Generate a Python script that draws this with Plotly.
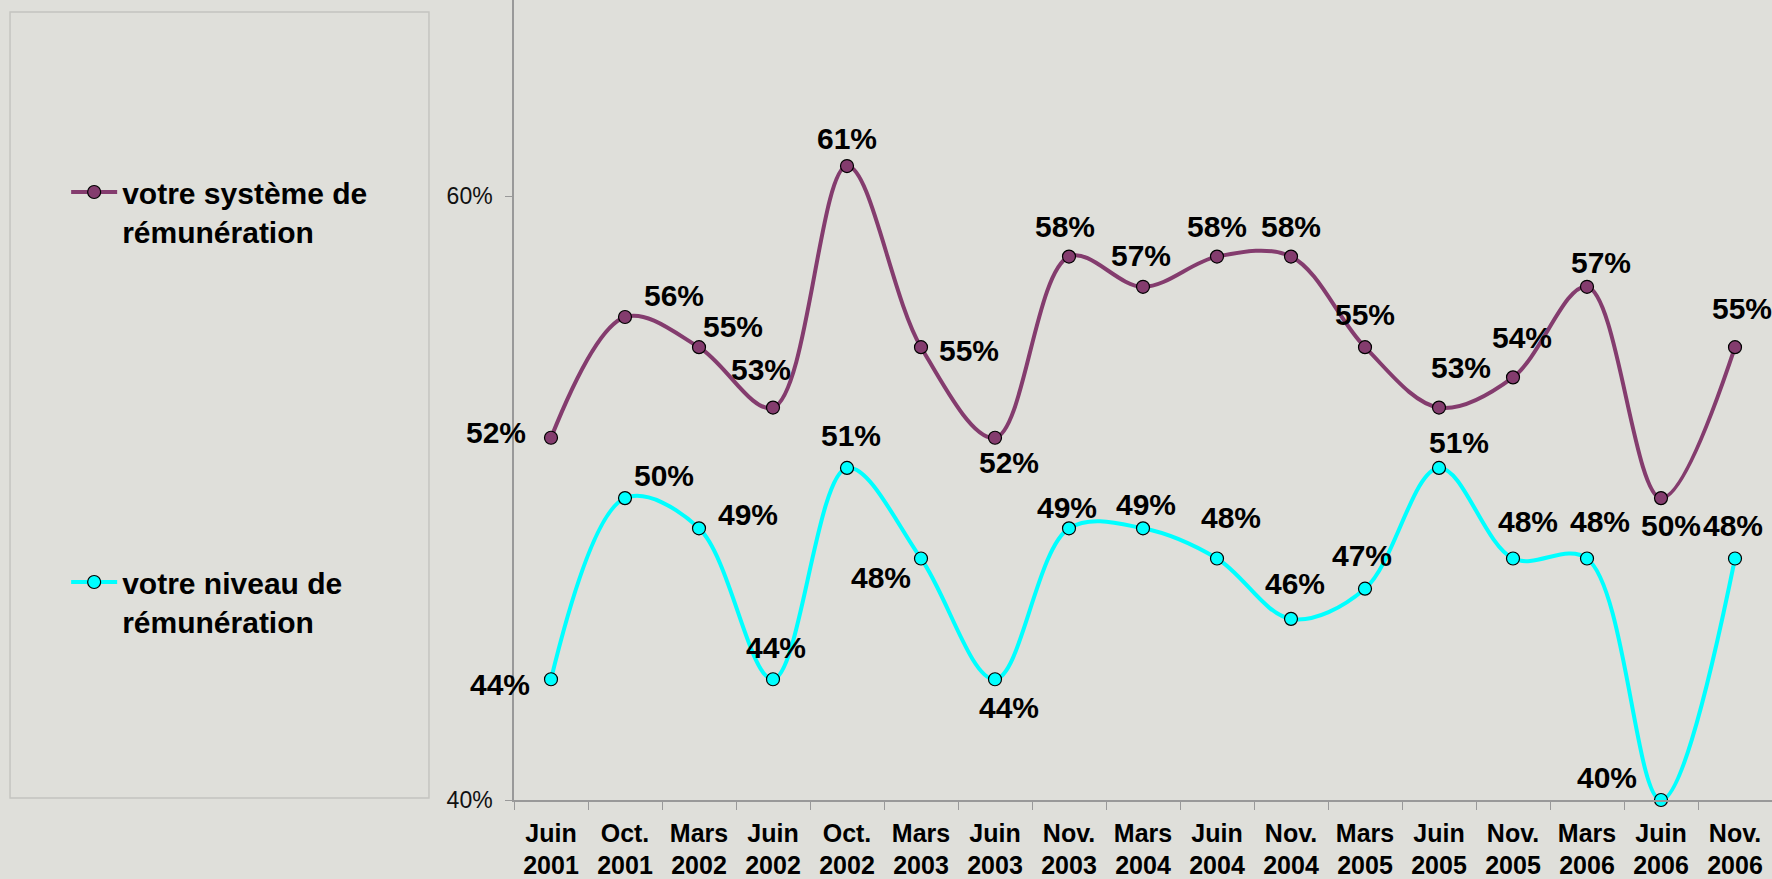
import plotly.graph_objects as go

# data
PERIODS = [
    "Juin<br>2001", "Oct.<br>2001", "Mars<br>2002", "Juin<br>2002", "Oct.<br>2002",
    "Mars<br>2003", "Juin<br>2003", "Nov.<br>2003", "Mars<br>2004", "Juin<br>2004",
    "Nov.<br>2004", "Mars<br>2005", "Juin<br>2005", "Nov.<br>2005", "Mars<br>2006",
    "Juin<br>2006", "Nov.<br>2006",
]
SYSTEME = [52, 56, 55, 53, 61, 55, 52, 58, 57, 58, 58, 55, 53, 54, 57, 50, 55]
NIVEAU = [44, 50, 49, 44, 51, 48, 44, 49, 49, 48, 46, 47, 51, 48, 48, 40, 48]
SERIES_NAMES = ["votre système de<br>rémunération", "votre niveau de<br>rémunération"]
Y_TICKS = [40, 60]

# label offsets (pixels, dx right / dy down) relative to each point
SYSTEME_OFFSETS = [
    (-55, -5), (49, -21), (34, -21), (-12, -38), (0, -28), (48, 3), (14, 25),
    (-4, -30), (-2, -31), (0, -30), (0, -30), (0, -33), (22, -40), (9, -40),
    (14, -24), (10, 27), (7, -39),
]
NIVEAU_OFFSETS = [
    (-51, 5), (39, -23), (49, -14), (3, -32), (4, -32), (-40, 19), (14, 28),
    (-2, -21), (3, -24), (14, -41), (4, -35), (-3, -33), (20, -25), (15, -37),
    (13, -37), (-54, -23), (-2, -33),
]

BG = "#DFDFDA"
PURPLE = "#843C6E"
CYAN = "#00FFFF"
FONT = "Liberation Sans, Arial, sans-serif"

fig = go.Figure()
for name, values, color, group in [
    (SERIES_NAMES[0], SYSTEME, PURPLE, "a"),
    (SERIES_NAMES[1], NIVEAU, CYAN, "b"),
]:
    fig.add_trace(
        go.Scatter(
            x=PERIODS,
            y=values,
            name=name,
            legendgroup=group,
            mode="lines+markers",
            line={"color": color, "width": 4, "shape": "spline", "smoothing": 1},
            marker={"color": color, "size": 13, "line": {"color": "black", "width": 1.2}},
            cliponaxis=False,
        )
    )

for values, offsets in [(SYSTEME, SYSTEME_OFFSETS), (NIVEAU, NIVEAU_OFFSETS)]:
    for cat, val, (dx, dy) in zip(PERIODS, values, offsets):
        fig.add_annotation(
            x=cat, y=val, text=f"{val}%", showarrow=False,
            xshift=dx, yshift=-dy, xanchor="center", yanchor="middle",
            font={"family": FONT, "size": 30, "color": "black", "weight": "bold"},
        )

# legend frame
fig.add_shape(
    type="rect", xref="paper", yref="paper",
    x0=-0.4006, x1=-0.0676, y0=0.0025, y1=0.985,
    line={"color": "#C4C4C0", "width": 1.5}, fillcolor="rgba(0,0,0,0)",
)

fig.update_layout(
    width=1772,
    height=879,
    paper_bgcolor=BG,
    plot_bgcolor=BG,
    margin={"l": 514, "r": 0, "t": 0, "b": 79},
    font={"family": FONT, "color": "black"},
    showlegend=True,
    legend={
        "x": -0.356, "xanchor": "left",
        "y": 0.7925, "yanchor": "top",
        "bgcolor": "rgba(0,0,0,0)",
        "font": {"family": FONT, "size": 30, "color": "black", "weight": "bold"},
        "valign": "top",
        "itemwidth": 46,
        "traceorder": "grouped",
        "tracegroupgap": 309,
    },
    xaxis={
        "type": "category",
        "range": [-0.5, len(PERIODS) - 0.5],
        "tickson": "boundaries",
        "ticks": "outside",
        "ticklen": 8,
        "tickcolor": "#999999",
        "showline": True,
        "linecolor": "#999999",
        "linewidth": 1.5,
        "showgrid": False,
        "automargin": False,
        "ticklabelstandoff": 10,
        "tickfont": {"family": FONT, "size": 25, "color": "black", "weight": "bold"},
    },
    yaxis={
        "range": [40, 66.5],
        "tickvals": Y_TICKS,
        "ticktext": [f"{t}%" for t in Y_TICKS],
        "ticks": "outside",
        "ticklen": 7,
        "tickcolor": "#999999",
        "showline": True,
        "linecolor": "#999999",
        "linewidth": 1.5,
        "showgrid": False,
        "zeroline": False,
        "automargin": False,
        "ticklabelstandoff": 8,
        "tickfont": {"family": FONT, "size": 23, "color": "#111111"},
    },
)

fig.write_html(
    "out.html",
    config={"displayModeBar": False},
    post_script="document.body.style.margin = '0';",
)
